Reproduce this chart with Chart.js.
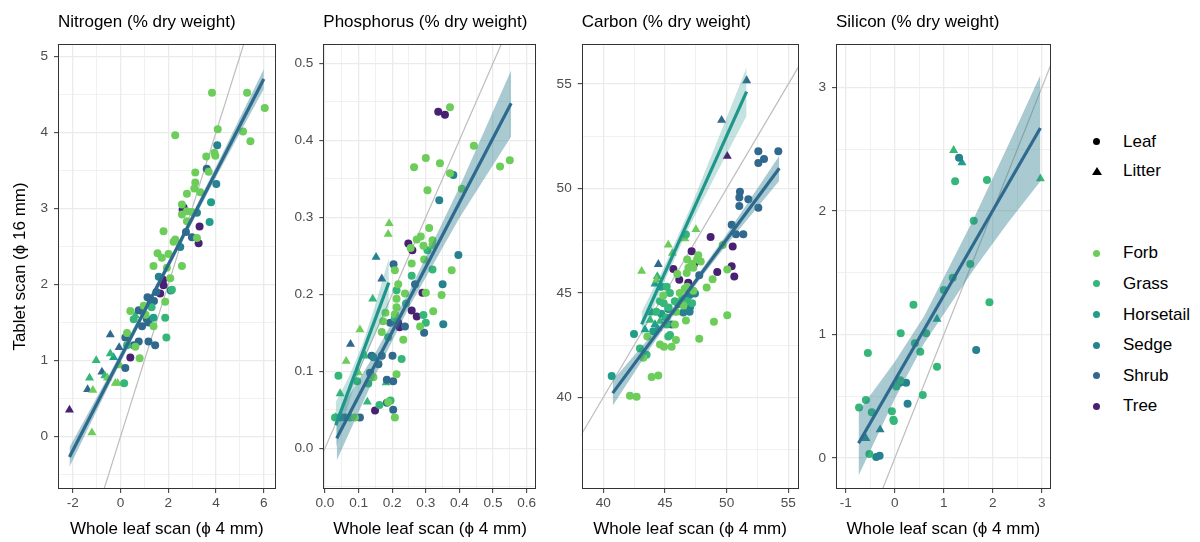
<!DOCTYPE html>
<html>
<head>
<meta charset="utf-8">
<script src="https://cdn.jsdelivr.net/npm/chart.js@4.4.1/dist/chart.umd.min.js"></script>
<style>
  html, body { margin: 0; padding: 0; background: #fff; }
  body { width: 1200px; height: 542px; position: relative; overflow: hidden;
         font-family: "Liberation Sans", Arial, sans-serif; }
  canvas { position: absolute; top: 0; }
  .key-text { position: absolute; font-size: 17px; line-height: 20px; color: #000; white-space: nowrap; }
  .key-dot { position: absolute; width: 7px; height: 7px; border-radius: 50%; }
  .key-tri { position: absolute; width: 0; height: 0; border-left: 5px solid transparent;
             border-right: 5px solid transparent; border-bottom: 8px solid #000; }
</style>
</head>
<body>
<canvas id="c1" width="280" height="542" style="left:0px"></canvas>
<canvas id="c2" width="260" height="542" style="left:280px"></canvas>
<canvas id="c3" width="260" height="542" style="left:540px"></canvas>
<canvas id="c4" width="255" height="542" style="left:800px"></canvas>
<div id="legend"></div>
<script>
const groups = ['Forb', 'Grass', 'Horsetail', 'Sedge', 'Shrub', 'Tree'];
const groupColors = ['#6CCD5A', '#35B779', '#1F9E89', '#26828E', '#31688E', '#482173'];
const tissues = ['Leaf', 'Litter'];

// rows: [whole leaf scan, tablet scan, group index]
const nitrogenLeaf = [
  [3.83,4.52,0],[5.30,4.52,0],[6.04,4.32,0],[2.29,3.96,0],[4.07,4.04,0],[5.13,4.01,0],[5.44,3.88,0],
  [4.05,3.83,3],[3.59,3.68,0],[3.93,3.73,0],[3.97,3.69,0],[3.61,3.52,4],[3.69,3.48,0],[3.13,3.47,0],
  [3.13,3.34,0],[3.09,3.26,0],[3.34,3.21,0],[4.01,3.32,3],[3.79,3.08,2],[3.73,2.82,2],[2.78,3.19,0],
  [2.57,3.05,0],[2.64,3.01,5],[2.60,2.98,5],[2.78,2.96,0],[2.99,2.95,0],[3.20,2.94,3],[3.31,2.76,5],
  [3.27,2.54,5],[2.99,2.62,4],[3.20,2.61,0],[2.78,2.83,0],[2.57,2.92,0],[2.74,2.69,4],[1.80,2.70,0],
  [2.29,2.59,0],[2.22,2.56,0],[2.50,2.49,3],[2.57,2.24,0],[1.55,2.41,0],[1.73,2.35,0],[1.38,2.24,0],
  [1.94,2.22,0],[2.01,2.40,0],[2.15,1.93,1],[1.78,2.06,5],[2.08,2.08,0],[1.66,1.88,5],[1.80,1.99,5],
  [1.87,1.77,0],[1.87,1.56,1],[1.92,1.30,1],[1.38,1.45,0],[1.45,1.20,4],[1.17,1.25,4],[1.38,1.56,2],
  [1.13,1.83,4],[0.97,1.72,0],[0.90,1.65,4],[1.10,1.54,4],[1.17,1.50,4],[0.90,1.45,4],[0.76,1.66,4],
  [0.41,1.65,0],[0.55,1.54,1],[0.76,1.25,4],[0.41,1.04,5],[0.80,1.03,0],[0.62,1.18,0],[0.27,1.20,1],
  [0.20,1.30,4],[0.27,1.36,0],[0.20,0.90,4],[0.15,0.70,1],[1.25,1.75,4],[1.40,1.78,4],[1.50,1.90,4],
  [1.05,1.60,0],[1.60,2.10,3],[2.10,1.92,3],[1.30,1.70,1],[0.55,1.20,4]
];
const nitrogenLitter = [
  [-0.43,1.34,4],[-0.43,1.09,1],[-0.29,1.04,2],[-0.78,0.85,4],[-1.02,1.00,1],[-1.30,0.77,1],
  [-1.38,0.62,4],[-1.16,0.61,0],[-2.14,0.35,5],[-1.20,0.05,0],[-0.55,0.77,0],[-0.01,0.93,0],
  [-0.22,0.70,0],[-0.12,0.70,0],[0.62,1.59,1],[-0.06,1.17,4],[-0.66,0.80,1]
];
const nitrogenFitX = [-2.14, 6.0];
const nitrogenFitY = [-0.27, 4.70];
const nitrogenBandX = [-2.14, -0.5, 1, 2.5, 4, 6.0];
const nitrogenBandLo = [-0.40, 0.66, 1.60, 2.51, 3.41, 4.57];
const nitrogenBandHi = [-0.14, 0.80, 1.70, 2.61, 3.55, 4.83];
const nitrogenXTicks = [-2, 0, 2, 4, 6];
const nitrogenYTicks = [0, 1, 2, 3, 4, 5];

const phosphorusLeaf = [
  [0.337,0.437,5],[0.357,0.433,5],[0.372,0.443,0],[0.443,0.393,0],[0.300,0.377,0],[0.342,0.370,0],
  [0.265,0.365,0],[0.372,0.357,0],[0.382,0.355,3],[0.521,0.366,0],[0.550,0.374,0],[0.407,0.337,0],
  [0.305,0.335,0],[0.340,0.322,3],[0.310,0.286,0],[0.285,0.275,0],[0.273,0.271,0],[0.320,0.270,0],
  [0.248,0.266,5],[0.260,0.257,5],[0.305,0.257,1],[0.293,0.263,0],[0.320,0.264,0],[0.397,0.251,3],
  [0.204,0.239,4],[0.208,0.231,0],[0.258,0.240,0],[0.295,0.245,0],[0.320,0.232,1],[0.377,0.231,0],
  [0.258,0.224,1],[0.268,0.213,4],[0.350,0.213,3],[0.218,0.213,0],[0.213,0.205,1],[0.238,0.201,0],
  [0.290,0.202,5],[0.300,0.202,0],[0.347,0.199,0],[0.213,0.194,0],[0.213,0.183,0],[0.241,0.188,1],
  [0.258,0.179,5],[0.273,0.171,5],[0.293,0.173,1],[0.322,0.178,0],[0.208,0.174,0],[0.194,0.163,4],
  [0.218,0.163,5],[0.238,0.158,4],[0.222,0.157,5],[0.208,0.169,1],[0.300,0.163,1],[0.295,0.150,4],
  [0.283,0.158,0],[0.352,0.161,3],[0.169,0.151,0],[0.188,0.144,1],[0.173,0.165,0],[0.180,0.176,0],
  [0.233,0.141,0],[0.201,0.120,4],[0.169,0.120,4],[0.144,0.118,3],[0.139,0.120,4],[0.159,0.109,4],
  [0.134,0.098,4],[0.228,0.116,1],[0.213,0.096,0],[0.144,0.092,0],[0.129,0.084,1],[0.096,0.087,1],
  [0.184,0.089,4],[0.203,0.087,4],[0.188,0.060,0],[0.195,0.062,1],[0.184,0.059,4],[0.162,0.056,1],
  [0.149,0.049,5],[0.203,0.050,4],[0.208,0.040,0],[0.040,0.094,1],[0.030,0.040,1],[0.045,0.040,3],
  [0.060,0.040,4],[0.074,0.040,1],[0.089,0.040,0],[0.104,0.040,4],[0.255,0.260,0]
];
const phosphorusLitter = [
  [0.191,0.292,0],[0.188,0.278,0],[0.152,0.248,3],[0.169,0.220,4],[0.142,0.194,1],[0.104,0.154,0],
  [0.076,0.135,4],[0.063,0.113,0],[0.045,0.071,1],[0.032,0.040,1],[0.099,0.098,0],[0.126,0.060,1],
  [0.182,0.085,1],[0.050,0.040,4],[0.120,0.120,1]
];
const phosphorusLeafFitX = [0.035, 0.554];
const phosphorusLeafFitY = [0.013, 0.448];
const phosphorusLeafBandX = [0.035, 0.15, 0.25, 0.40, 0.554];
const phosphorusLeafBandLo = [-0.016, 0.095, 0.183, 0.299, 0.405];
const phosphorusLeafBandHi = [0.042, 0.124, 0.203, 0.339, 0.491];
const phosphorusLitterFitX = [0.032, 0.19];
const phosphorusLitterFitY = [0.030, 0.215];
const phosphorusLitterBandX = [0.032, 0.07, 0.11, 0.15, 0.19];
const phosphorusLitterBandLo = [0.000, 0.0575, 0.109, 0.150, 0.183];
const phosphorusLitterBandHi = [0.060, 0.0915, 0.133, 0.186, 0.247];
const phosphorusXTicks = [0.0, 0.1, 0.2, 0.3, 0.4, 0.5, 0.6];
const phosphorusYTicks = [0.0, 0.1, 0.2, 0.3, 0.4, 0.5];

const carbonLeaf = [
  [52.57,51.79,4],[53.03,51.41,4],[54.19,51.79,4],[52.57,51.22,4],[51.08,49.85,4],[51.03,49.57,4],
  [51.76,49.49,4],[51.03,49.16,4],[52.57,49.08,4],[50.41,48.26,4],[50.76,47.81,4],[51.35,47.81,4],
  [48.70,47.68,5],[50.49,47.22,5],[47.16,46.99,5],[47.35,46.37,5],[50.41,46.28,5],[49.24,46.00,5],
  [50.62,45.79,5],[45.68,46.15,5],[46.16,45.63,5],[46.89,45.49,5],[47.78,45.84,4],[47.43,44.97,3],
  [50.05,46.12,0],[49.68,47.30,0],[46.80,46.60,0],[47.20,46.40,0],[47.60,46.60,0],[46.90,46.20,0],
  [47.30,46.20,0],[47.70,46.80,0],[46.70,47.80,1],[48.38,45.26,0],[48.86,45.66,0],[50.05,43.93,0],
  [48.97,43.62,0],[47.78,42.80,0],[46.70,43.68,0],[45.81,43.49,0],[45.89,42.75,0],[45.27,42.91,1],
  [45.54,42.42,0],[44.60,42.53,0],[44.92,42.42,0],[44.46,41.05,0],[43.92,40.97,0],[42.16,40.07,0],
  [42.70,40.03,0],[40.68,41.02,2],[42.49,43.03,2],[42.97,42.34,1],[43.51,42.04,1],[43.24,41.89,0],
  [43.57,42.91,0],[44.05,43.16,2],[44.60,44.60,1],[44.90,44.50,1],[45.30,44.30,1],[45.80,44.60,1],
  [46.40,44.70,1],[46.80,44.60,1],[47.20,44.50,1],[46.49,44.06,3],[47.03,44.31,3],[45.27,44.23,3],
  [46.08,44.47,4],[45.54,43.49,4],[45.14,43.82,1],[45.14,43.49,1],[45.41,42.99,1],[46.20,45.00,0],
  [46.60,45.20,0],[47.30,45.10,0],[46.80,45.30,0],[45.14,45.30,1],[44.86,44.88,0],[46.76,45.95,0],
  [44.30,44.10,1],[44.70,44.00,2],[45.90,44.10,0],[46.50,44.40,0],[47.00,44.90,3],[44.70,45.30,2],
  [47.90,46.50,0],[46.00,45.90,0],[45.40,45.00,1],[47.00,44.10,3]
];
const carbonLitter = [
  [51.62,55.17,4],[49.59,53.27,4],[50.05,51.55,5],[47.51,48.04,0],[45.27,47.30,0],[44.46,46.37,4],
  [43.11,46.04,0],[44.38,45.79,1],[44.32,45.62,0],[44.19,45.43,2],[43.38,43.24,2],[44.19,43.49,2],
  [44.60,43.65,1],[43.92,44.06,2],[45.95,44.06,0],[46.62,47.60,0],[45.60,46.90,0],[43.80,43.70,1],
  [44.40,43.30,2],[45.00,43.80,2]
];
const carbonLeafFitX = [40.76, 54.27];
const carbonLeafFitY = [40.20, 50.97];
const carbonLeafBandX = [40.76, 44, 47, 50, 54.27];
const carbonLeafBandLo = [39.60, 42.53, 45.02, 47.31, 50.37];
const carbonLeafBandHi = [40.80, 43.03, 45.32, 47.81, 51.57];
const carbonLitterFitX = [43.11, 51.62];
const carbonLitterFitY = [43.49, 54.64];
const carbonLitterBandX = [43.11, 45, 47, 49, 51.62];
const carbonLitterBandLo = [42.89, 45.62, 48.19, 50.51, 53.49];
const carbonLitterBandHi = [44.09, 46.32, 48.99, 51.91, 55.79];
const carbonXTicks = [40, 45, 50, 55];
const carbonYTicks = [40, 45, 50, 55];

const siliconLeaf = [
  [1.31,2.43,3],[1.23,2.24,1],[1.88,2.25,1],[1.61,1.92,1],[1.54,1.57,1],[1.18,1.46,1],[1.00,1.36,1],
  [1.93,1.26,1],[0.38,1.24,1],[0.12,1.01,1],[0.64,1.01,1],[0.41,0.93,1],[0.52,0.86,1],[1.66,0.875,3],
  [0.86,0.74,1],[-0.55,0.85,1],[0.10,0.61,3],[0.23,0.61,3],[0.03,0.58,1],[0.57,0.51,1],[0.26,0.44,3],
  [-0.59,0.47,1],[-0.73,0.41,1],[-0.47,0.37,1],[-0.06,0.38,1],[-0.03,0.31,1],[-0.02,0.30,1],
  [-0.52,0.033,1],[-0.38,0.008,3],[-0.31,0.02,3],[0.11,0.63,1]
];
const siliconLitter = [
  [1.20,2.49,1],[1.37,2.39,2],[2.97,2.26,1],[0.86,1.125,2],[-0.30,0.23,3],[-0.59,0.16,3]
];
const siliconFitX = [-0.74, 2.97];
const siliconFitY = [0.12, 2.67];
const siliconBandX = [-0.74, 0, 0.6, 1.6, 2.3, 2.97];
const siliconBandLo = [-0.14, 0.48, 0.93, 1.52, 1.90, 2.24];
const siliconBandHi = [0.38, 0.78, 1.15, 1.93, 2.52, 3.10];
const siliconXTicks = [-1, 0, 1, 2, 3];
const siliconYTicks = [0, 1, 2, 3];

const leafLine = '#2E6A8E';
const litterLine = '#1F968A';
const leafBand = 'rgba(52,128,145,0.42)';
const litterBand = 'rgba(40,150,145,0.28)';

Chart.defaults.font.family = '"Liberation Sans", Arial, sans-serif';

const pts = (xs, ys) => xs.map((x, i) => ({x: x, y: ys[i]}));
const fit = (fx, fy, bx, lo, hi, line, band) => ({fx, fy, bx, lo, hi, line, band});

const panels = [
  { id: 'c1', title: 'Nitrogen (% dry weight)', leaf: nitrogenLeaf, litter: nitrogenLitter,
    fits: [fit(nitrogenFitX, nitrogenFitY, nitrogenBandX, nitrogenBandLo, nitrogenBandHi, leafLine, leafBand)],
    xTicks: nitrogenXTicks, yTicks: nitrogenYTicks, x: [-2.62, 6.49], y: [-0.69, 5.16],
    yw: 58, right: 4.5, dec: 0, yTitle: true },
  { id: 'c2', title: 'Phosphorus (% dry weight)', leaf: phosphorusLeaf, litter: phosphorusLitter,
    fits: [fit(phosphorusLeafFitX, phosphorusLeafFitY, phosphorusLeafBandX, phosphorusLeafBandLo, phosphorusLeafBandHi, leafLine, leafBand),
           fit(phosphorusLitterFitX, phosphorusLitterFitY, phosphorusLitterBandX, phosphorusLitterBandLo, phosphorusLitterBandHi, litterLine, litterBand)],
    xTicks: phosphorusXTicks, yTicks: phosphorusYTicks, x: [-0.005, 0.63], y: [-0.053, 0.525],
    yw: 43.3, right: 3.3, dec: 1 },
  { id: 'c3', title: 'Carbon (% dry weight)', leaf: carbonLeaf, litter: carbonLitter,
    fits: [fit(carbonLeafFitX, carbonLeafFitY, carbonLeafBandX, carbonLeafBandLo, carbonLeafBandHi, leafLine, leafBand),
           fit(carbonLitterFitX, carbonLitterFitY, carbonLitterBandX, carbonLitterBandLo, carbonLitterBandHi, litterLine, litterBand)],
    xTicks: carbonXTicks, yTicks: carbonYTicks, x: [38.25, 55.81], y: [35.61, 56.92],
    yw: 41.7, right: 1.7, dec: 0 },
  { id: 'c4', title: 'Silicon (% dry weight)', leaf: siliconLeaf, litter: siliconLitter,
    fits: [fit(siliconFitX, siliconFitY, siliconBandX, siliconBandLo, siliconBandHi, leafLine, leafBand)],
    xTicks: siliconXTicks, yTicks: siliconYTicks, x: [-1.2, 3.18], y: [-0.25, 3.35],
    yw: 36, right: 4.3, dec: 0 }
];

// majors from the tick arrays, minor grid lines halfway between
function allTicks(majors, lo, hi) {
  const half = (majors[1] - majors[0]) / 2;
  const out = [];
  const first = majors[0] - half, last = majors[majors.length - 1] + half;
  if (first >= lo) out.push(first);
  majors.forEach((v, i) => { out.push(v); if (i < majors.length - 1) out.push(v + half); });
  if (last <= hi) out.push(last);
  return out;
}
const isMajor = (v, majors) => majors.some(m => Math.abs(m - v) < 1e-9);

const frame = {
  id: 'frame',
  afterDatasetsDraw(chart) {
    const a = chart.chartArea, ctx = chart.ctx;
    ctx.save();
    ctx.strokeStyle = '#333333';
    ctx.lineWidth = 1;
    ctx.strokeRect(Math.round(a.left) + 0.5, Math.round(a.top) + 0.5,
                   Math.round(a.right - a.left) - 1, Math.round(a.bottom - a.top) - 1);
    ctx.restore();
  }
};

function axis(p, majors, range, horizontal) {
  const ticks = allTicks(majors, range[0], range[1]);
  const ax = {
    type: 'linear', min: range[0], max: range[1],
    afterBuildTicks: s => { s.ticks = ticks.map(v => ({value: v})); s.min = range[0]; s.max = range[1]; },
    border: { display: false },
    grid: {
      color: '#EBEBEB',
      lineWidth: c => isMajor(c.tick.value, majors) ? 1.3 : 0.7,
      tickLength: 4,
      tickWidth: 1,
      tickColor: c => isMajor(c.tick.value, majors) ? '#333333' : 'rgba(0,0,0,0)'
    },
    ticks: {
      autoSkip: false, maxRotation: 0, color: '#4D4D4D', font: { size: 13.6 },
      padding: horizontal ? 2 : 6,
      callback: v => isMajor(v, majors) ? v.toFixed(p.dec) : ''
    }
  };
  if (horizontal) {
    ax.afterFit = s => { s.height = 53; };
    ax.title = { display: true, text: 'Whole leaf scan (ϕ 4 mm)', color: '#000', font: { size: 17 },
                 padding: { top: 0, bottom: 2 } };
  } else {
    ax.afterFit = s => { s.width = p.yw; };
    if (p.yTitle) {
      ax.title = { display: true, text: 'Tablet scan (ϕ 16 mm)', color: '#000', font: { size: 17 },
                   padding: { top: 10, bottom: 0 } };
    }
  }
  return ax;
}

panels.forEach(p => {
  const datasets = [];
  const lo = Math.min(p.x[0], p.y[0]), hi = Math.max(p.x[1], p.y[1]);
  datasets.push({ data: [{x: lo, y: lo}, {x: hi, y: hi}], showLine: true, pointRadius: 0,
                  borderColor: '#BDBDBD', borderWidth: 1.2, order: 3, clip: 0 });
  [[p.leaf, 'circle', 4], [p.litter, 'triangle', 5.2]].forEach(([rows, style, r], k) => {
    groups.forEach((g, gi) => {
      const sel = rows.filter(d => d[2] === gi).map(d => ({x: d[0], y: d[1]}));
      if (!sel.length) return;
      datasets.push({ label: tissues[k] + ' ' + g, data: sel, pointStyle: style, pointRadius: r,
                      backgroundColor: groupColors[gi], borderWidth: 0, order: 2 });
    });
  });
  p.fits.forEach(f => {
    datasets.push({ data: pts(f.bx, f.lo), showLine: true, pointRadius: 0, borderWidth: 0,
                    fill: false, order: 1 });
    datasets.push({ data: pts(f.bx, f.hi), showLine: true, pointRadius: 0, borderWidth: 0,
                    fill: '-1', backgroundColor: f.band, order: 1 });
    datasets.push({ data: pts(f.fx, f.fy), showLine: true, pointRadius: 0, borderWidth: 3.2,
                    borderColor: f.line, borderCapStyle: 'butt', order: 0 });
  });

  new Chart(document.getElementById(p.id), {
    type: 'scatter',
    data: { datasets },
    options: {
      responsive: false, animation: false, events: [],
      layout: { autoPadding: false, padding: { left: 0, right: p.right, top: 0, bottom: 0 } },
      plugins: {
        legend: { display: false }, tooltip: { enabled: false },
        title: { display: true, text: p.title, align: 'start', fullSize: false, color: '#000',
                 font: { size: 17, weight: 'normal' }, padding: { top: 11.8, bottom: 11.8 } }
      },
      scales: { x: axis(p, p.xTicks, p.x, true), y: axis(p, p.yTicks, p.y, false) }
    },
    plugins: [frame]
  });
});

// legend
const legend = document.getElementById('legend');
const keyX = 1096.7, textX = 1123;
function addText(label, y) {
  const t = document.createElement('div');
  t.className = 'key-text'; t.textContent = label;
  t.style.left = textX + 'px'; t.style.top = (y - 10) + 'px';
  legend.appendChild(t);
}
tissues.forEach((label, i) => {
  const y = 141.5 + i * 29.5;
  const m = document.createElement('div');
  if (i === 0) {
    m.className = 'key-dot'; m.style.background = '#000';
    m.style.left = (keyX - 3.5) + 'px'; m.style.top = (y - 3.5) + 'px';
  } else {
    m.className = 'key-tri';
    m.style.left = (keyX - 5) + 'px'; m.style.top = (y - 4.5) + 'px';
  }
  legend.appendChild(m);
  addText(label, y);
});
groups.forEach((label, i) => {
  const y = 253.3 + i * 30.6;
  const m = document.createElement('div');
  m.className = 'key-dot'; m.style.background = groupColors[i];
  m.style.left = (keyX - 3.5) + 'px'; m.style.top = (y - 3.5) + 'px';
  legend.appendChild(m);
  addText(label, y);
});
</script>
</body>
</html>
